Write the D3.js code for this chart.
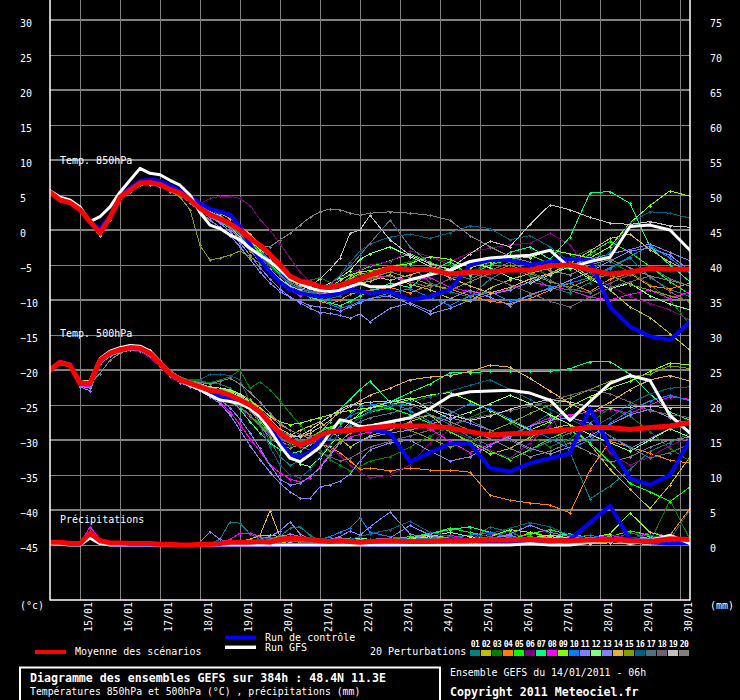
<!DOCTYPE html>
<html><head><meta charset="utf-8">
<script src="https://cdn.jsdelivr.net/npm/d3@7/dist/d3.min.js"></script>
<style>html,body{margin:0;padding:0;background:#000;} svg{display:block;}</style>
</head><body>
<svg id="c" width="740" height="700"></svg>
<script>
// ---------- DATA ----------
const hours = [0,6,12,18,24,30,36,42,48,54,60,66,72,78,84,90,96,102,108,114,120,126,132,138,144,150,156,162,168,174,180,186,192,
  204,216,228,240,252,264,276,288,300,312,324,336,348,360,372,384];
const dayHours = [18,42,66,90,114,138,162,186,210,234,258,282,306,330,354,378];
const dayLabels = ["15/01","16/01","17/01","18/01","19/01","20/01","21/01","22/01","23/01","24/01","25/01","26/01","27/01","28/01","29/01","30/01"];
const tempTicks = [30,25,20,15,10,5,0,-5,-10,-15,-20,-25,-30,-35,-40,-45];
const precipTicks = [75,70,65,60,55,50,45,40,35,30,25,20,15,10,5,0];
const memberNames = ["01","02","03","04","05","06","07","08","09","10","11","12","13","14","15","16","17","18","19","20"];
const memberColors = ["#008080","#c0c000","#008000","#ff8000","#00ff00","#800080","#00ff80","#ff00ff","#80ff00","#0080ff",
  "#8080ff","#80ff80","#8080ff","#e0b040","#80a000","#006080","#507080","#706070","#c0c0c0","#808080"];

const mean850 = [5.4,4.3,3.9,2.9,1.2,-0.4,1.8,4.7,5.7,6.7,6.8,6.5,5.8,5.3,4.3,3.1,
  2.2,1.6,0.9,0.0,-1.2,-2.2,-3.5,-5.0,-6.6,-7.3,-7.6,-8.1,-8.2,-7.9,-7.4,-7.0,-6.4,
  -5.4,-5.7,-5.6,-6.3,-6.0,-6.0,-5.7,-5.7,-5.1,-5.0,-5.7,-6.3,-6.0,-5.5,-5.6,-5.6];
const gfs850 = [5.6,4.7,4.3,3.3,1.2,1.9,3.3,5.4,7.1,8.8,8.1,7.9,7.1,6.4,5.0,2.5,
  0.7,0.2,-0.7,-1.4,-2.6,-3.6,-4.5,-5.7,-6.9,-7.6,-8.3,-8.6,-8.8,-8.6,-8.1,-7.6,-8.1,
  -8.1,-7.1,-6.4,-5.7,-4.5,-4.0,-3.8,-3.6,-2.9,-5.4,-4.5,-3.9,0.5,0.7,0.0,-2.9];
const ctrl850 = [5.5,4.5,4.0,3.0,1.0,0.2,2.0,5.0,6.0,7.0,7.2,7.0,6.3,5.7,4.8,3.8,
  3.0,2.6,2.2,0.5,-2.0,-4.3,-6.0,-7.5,-8.5,-9.0,-9.3,-9.5,-9.3,-9.0,-8.5,-8.8,-9.0,
  -8.8,-10.0,-9.5,-8.5,-5.0,-4.3,-4.3,-5.0,-4.5,-4.1,-4.3,-11.0,-13.8,-15.2,-15.7,-13.1];

const mean500 = [-20.0,-18.9,-19.3,-21.9,-21.9,-18.6,-17.6,-17.1,-16.8,-16.9,-17.6,-19.0,-20.5,-21.4,-21.9,-22.4,
  -22.9,-23.1,-23.6,-24.3,-25.0,-26.0,-27.6,-29.0,-30.0,-30.7,-30.2,-29.3,-28.8,-28.7,-28.6,-28.5,-28.3,
  -28.0,-28.0,-28.0,-28.3,-28.8,-29.3,-29.1,-29.0,-28.7,-28.5,-28.2,-28.2,-28.5,-28.2,-28.0,-27.5];
const gfs500 = [-20.0,-18.8,-19.2,-21.8,-21.6,-18.4,-17.3,-16.8,-16.5,-16.6,-17.3,-18.8,-20.4,-21.5,-22.2,-22.8,
  -23.6,-24.3,-24.5,-24.8,-25.5,-26.7,-28.6,-30.8,-32.6,-33.1,-32.1,-31.0,-29.0,-27.1,-27.4,-28.1,-28.0,
  -27.4,-26.8,-25.5,-23.7,-23.1,-23.0,-22.9,-23.3,-24.3,-27.2,-24.5,-21.9,-20.8,-21.5,-26.5,-29.0];
const ctrl500 = [-20.0,-18.8,-19.2,-22.0,-22.0,-18.8,-17.5,-17.0,-16.6,-16.8,-17.5,-19.0,-20.5,-21.5,-22.0,-22.5,
  -23.2,-23.8,-24.2,-24.6,-25.3,-26.5,-28.3,-30.3,-32.1,-32.4,-31.7,-30.0,-29.0,-28.5,-28.6,-28.6,-28.5,
  -29.0,-33.1,-31.8,-30.5,-30.5,-34.0,-34.5,-33.3,-32.6,-31.9,-25.5,-31.0,-35.5,-36.4,-35.0,-30.0];

const meanPrecip = [0.4,0.4,0.2,0.2,1.7,0.6,0.3,0.3,0.2,0.2,0.2,0.1,0.1,0.0,0.0,0.1,
  0.1,0.2,0.4,0.4,0.4,0.5,0.4,0.8,1.0,0.9,0.8,0.6,0.5,0.6,0.5,0.4,0.5,
  0.6,0.5,0.5,0.6,0.6,0.7,0.7,0.8,0.6,0.6,0.7,0.8,0.6,0.5,0.9,0.8];
const gfsPrecip = [0.2,0.1,0.0,0.0,1.0,0.2,0.0,0.0,0.0,0.0,0.0,0.0,0.0,0.0,0.0,0.0,
  0.0,0.0,0.0,0.0,0.0,0.0,0.0,0.0,0.0,0.0,0.0,0.0,0.0,0.0,0.0,0.0,0.0,
  0.0,0.0,0.0,0.0,0.0,0.0,0.0,0.2,0.0,0.0,0.4,0.8,0.2,0.6,1.4,0.2];
const ctrlPrecip = [0.3,0.2,0.1,0.1,1.2,0.3,0.1,0.0,0.0,0.0,0.0,0.0,0.0,0.0,0.0,0.0,
  0.0,0.0,0.0,0.0,0.0,0.0,0.0,0.0,0.0,0.0,0.0,0.0,0.2,0.4,0.2,0.1,0.0,
  0.0,0.1,0.4,0.8,0.6,0.3,0.2,0.6,0.4,0.8,3.2,5.6,0.8,0.4,0.2,0.3];

const pert850 = [
 [5.5,4.4,4.0,3.0,1.1,-0.5,1.6,4.5,5.8,6.9,7.0,6.6,5.9,5.4,4.5,3.4, 2.5,1.8,0.6,-0.8,-2.5,-4.0,-5.2,-6.5,-7.8,-8.6,-9.0,-9.5,-9.8,-9.4,-8.5,-7.8,-7.0, -6.0,-5.0,-7.5,-8.8,-9.6,-7.0,-5.5,-6.5,-8.2,-9.0,-7.5,-5.5,-4.0,-6.8,-8.5,-9.5],
 [5.3,4.2,3.8,2.8,0.9,-0.9,1.4,4.4,5.6,6.6,6.8,6.4,5.7,5.1,4.0,2.8, 1.8,1.2,0.5,-0.5,-1.6,-2.8,-4.3,-5.8,-7.2,-8.0,-8.4,-9.0,-9.3,-8.8,-8.2,-7.6,-7.3, -6.4,-7.8,-8.5,-9.8,-10.2,-8.3,-7.1,-6.2,-5.4,-4.8,-6.7,-8.6,-11.0,-12.5,-14.8,-17.2],
 [5.4,4.5,4.1,3.1,1.3,-0.2,1.9,4.8,5.9,6.8,7.1,6.7,6.0,5.5,4.8,3.9, 3.0,2.2,1.0,-0.2,-1.5,-3.0,-4.6,-6.0,-7.0,-7.5,-7.2,-6.8,-7.5,-8.0,-7.2,-6.4,-6.0, -5.2,-4.5,-3.8,-5.0,-6.2,-4.6,-3.5,-5.2,-6.6,-4.0,-2.8,-4.5,-6.0,-7.8,-10.0,-13.5],
 [5.4,4.3,3.9,2.9,1.0,-0.6,1.5,4.6,5.7,6.6,6.6,6.3,5.6,5.2,4.2,3.0, 2.0,1.5,0.2,-1.4,-3.0,-4.5,-5.8,-7.0,-8.2,-9.0,-9.6,-10.2,-10.6,-10.0,-9.2,-8.8,-8.6, -8.2,-9.0,-7.8,-8.4,-9.4,-10.2,-10.5,-9.8,-8.6,-7.6,-8.8,-7.0,-6.2,-8.0,-8.4,-7.6],
 [5.5,4.6,4.2,3.2,1.4,-0.1,2.0,4.9,6.0,7.0,7.2,6.8,6.1,5.6,4.6,3.5, 2.6,1.9,0.8,-0.4,-1.8,-3.2,-4.8,-6.4,-7.6,-8.4,-8.8,-9.2,-8.6,-7.8,-6.8,-5.8,-5.2, -4.4,-3.4,-4.6,-5.8,-6.4,-5.0,-4.2,-3.6,-4.8,-5.6,-3.4,-1.6,-3.2,-5.2,-7.4,-9.2],
 [5.4,4.4,4.0,3.0,1.2,-0.3,1.8,4.7,5.8,6.7,6.9,6.6,5.9,5.5,4.8,3.8, 4.5,4.8,4.8,4.5,3.5,1.5,0.0,-2.0,-4.0,-6.0,-7.4,-8.2,-8.0,-7.0,-6.2,-5.6,-5.0, -4.5,-3.0,-3.8,-4.6,-3.2,-2.6,-2.1,-1.9,-0.5,-2.1,-6.2,-8.0,-9.5,-10.5,-11.4,-12.9],
 [5.3,4.3,3.9,2.9,1.1,-0.4,1.7,4.6,5.7,6.8,6.9,6.5,5.8,5.2,4.2,3.0, 2.0,1.2,0.2,-1.0,-2.4,-3.6,-5.0,-6.6,-8.0,-9.0,-9.6,-10.0,-10.4,-10.8,-10.2,-9.4,-8.8, -7.6,-8.2,-6.0,-4.5,-6.5,-5.0,-3.2,-2.4,-4.2,-1.0,5.3,5.5,3.8,-2.4,-5.0,-7.4],
 [5.4,4.4,4.0,2.9,1.1,-0.5,1.7,4.7,5.7,6.7,6.8,6.5,5.8,5.3,4.3,3.1, 2.2,1.4,0.4,-1.0,-2.6,-4.2,-5.6,-7.0,-8.6,-9.4,-9.0,-8.6,-8.4,-8.8,-8.0,-7.4,-6.8, -6.6,-7.2,-6.8,-8.2,-8.8,-9.2,-8.4,-7.4,-8.0,-8.6,-9.6,-10.0,-9.2,-8.6,-9.8,-8.8],
 [5.5,4.5,4.1,3.1,1.2,-0.3,1.9,4.8,5.9,6.8,7.0,6.6,5.9,5.4,4.4,3.2, 2.4,1.8,0.8,-0.6,-2.0,-3.4,-4.6,-5.8,-7.0,-7.8,-8.2,-8.6,-8.2,-7.2,-6.4,-6.0,-5.8, -5.2,-4.8,-3.8,-4.2,-5.4,-4.6,-3.6,-4.0,-2.8,-3.4,-4.0,-2.4,1.0,3.5,5.6,4.8],
 [5.3,4.3,3.9,2.8,1.0,-0.5,1.6,4.6,5.6,6.6,6.7,6.4,5.7,5.2,4.4,3.6, 3.0,2.0,1.2,0.2,-1.2,-2.8,-4.4,-6.0,-7.4,-8.2,-8.8,-9.6,-10.6,-11.2,-10.8,-10.2,-9.8, -9.0,-8.4,-9.6,-10.8,-9.4,-8.8,-10.2,-9.4,-8.2,-7.6,-6.8,-5.4,-3.8,-2.2,-4.0,-6.2],
 [5.4,4.3,3.9,2.9,1.1,-0.6,1.5,4.4,5.5,6.4,6.5,6.2,5.5,5.0,4.0,2.8, 1.8,1.0,-0.2,-1.8,-3.6,-5.4,-7.0,-8.4,-9.6,-10.4,-11.2,-11.8,-11.9,-12.2,-12.6,-12.0,-13.1, -11.2,-10.4,-11.6,-9.8,-8.6,-9.6,-10.8,-9.2,-8.4,-7.2,-6.0,-4.4,-3.0,-2.6,-3.6,-5.8],
 [5.5,4.5,4.1,3.0,1.2,-0.2,1.9,4.8,5.8,6.8,7.0,6.7,6.0,5.5,4.6,3.5, 2.6,2.0,1.0,-0.4,-1.6,-2.8,-3.8,-5.2,-6.4,-7.4,-7.9,-8.2,-7.6,-6.8,-5.8,-4.2,-3.4, -2.4,-3.8,-5.2,-6.0,-4.6,-5.4,-6.8,-7.6,-6.4,-5.2,-7.0,-8.4,-7.6,-9.4,-10.6,-11.4],
 [5.3,4.2,3.8,2.8,1.0,-0.7,1.4,4.4,5.5,6.4,6.6,6.3,5.6,5.0,3.9,2.6, 1.4,0.4,-0.8,-2.4,-4.2,-6.0,-7.6,-8.8,-9.6,-10.2,-10.8,-11.0,-11.2,-11.6,-11.0,-10.4,-9.8, -9.4,-10.6,-12.0,-11.2,-10.0,-9.2,-8.6,-7.4,-6.2,-5.0,-4.2,-3.4,-2.8,-2.0,-3.2,-4.4],
 [5.4,4.4,4.0,3.0,1.1,-0.4,1.8,4.7,5.8,6.8,6.9,6.6,6.0,5.6,4.9,4.0, 3.2,2.4,1.6,0.6,-0.6,-2.0,-3.6,-5.2,-6.8,-7.8,-8.4,-8.8,-9.2,-8.6,-7.0,-6.2,-6.4, -7.2,-6.4,-5.6,-6.8,-8.0,-9.0,-8.2,-7.0,-6.2,-4.8,-3.0,-1.2,-0.6,-2.8,-4.6,-6.0],
 [5.5,4.4,4.0,3.0,1.2,-0.3,1.8,4.6,5.6,6.5,6.8,6.4,5.6,4.7,2.9,-2.2, -4.3,-4.0,-3.6,-3.0,-3.8,-4.8,-6.0,-7.2,-8.2,-8.8,-9.0,-9.4,-9.0,-8.4,-7.6,-7.2,-6.8, -6.0,-6.8,-7.8,-8.6,-7.4,-6.2,-5.0,-6.2,-7.4,-8.2,-7.0,-6.4,-7.8,-8.6,-9.4,-10.2],
 [5.4,4.3,3.9,2.9,1.0,-0.5,1.6,4.5,5.6,6.6,6.7,6.4,5.7,5.2,4.3,3.2, 2.3,1.6,0.6,-0.8,-2.2,-3.8,-5.2,-6.6,-7.8,-8.4,-8.6,-8.4,-7.8,-6.4,-4.6,-3.0,-2.0, -1.0,-0.6,-1.2,-0.4,0.6,0.2,-1.4,-0.8,-2.4,-4.6,-6.2,-3.0,1.0,2.6,2.4,1.7],
 [5.3,4.3,3.9,2.9,1.1,-0.4,1.7,4.6,5.7,6.7,6.8,6.5,5.8,5.3,4.3,3.1, 2.1,1.4,0.3,-1.2,-2.8,-4.4,-5.8,-7.2,-8.4,-9.2,-9.4,-8.8,-7.8,-6.6,-5.2,-3.6,-1.9, 1.4,-2.4,-4.8,-6.2,-7.0,-5.8,-4.6,-6.0,-7.2,-8.4,-9.0,-7.6,-6.4,-5.2,-7.0,-8.0],
 [5.4,4.4,4.0,3.0,1.2,-0.4,1.8,4.7,5.8,6.7,6.8,6.5,5.8,5.3,4.4,3.3, 2.4,1.6,0.6,-0.6,-2.0,-3.6,-5.0,-6.4,-7.6,-8.4,-8.8,-9.0,-8.6,-8.0,-7.6,-7.2,-7.0, -6.6,-7.4,-8.2,-7.0,-6.2,-6.8,-7.8,-9.0,-10.2,-11.0,-9.6,-8.2,-7.4,-6.6,-8.8,-10.4],
 [5.5,4.5,4.1,3.1,1.3,-0.2,2.0,4.9,6.0,6.9,7.1,6.7,6.0,5.5,4.6,3.4, 2.4,1.6,0.4,-1.0,-2.4,-4.0,-5.6,-7.0,-8.0,-8.6,-8.0,-7.0,-5.6,-4.0,-0.5,0.0,2.1, -1.4,-3.6,-4.8,-5.6,-3.4,-1.6,-2.4,0.8,3.6,2.9,1.8,1.0,0.8,1.2,0.6,0.4],
 [5.4,4.4,4.0,3.0,1.2,-0.4,1.7,4.6,5.6,6.6,6.8,6.5,5.8,5.3,4.4,3.3, 2.3,1.5,0.4,-0.6,-1.4,-2.2,-2.4,-1.4,-0.5,0.7,1.8,2.6,3.0,2.9,2.4,2.1,2.4, 2.6,2.4,2.1,1.4,-0.8,-2.4,-3.8,-4.6,-5.8,-6.4,-5.0,-4.2,-5.4,-6.6,-7.2,-8.0]
];

const pert500 = [
 [-20.0,-18.8,-19.2,-21.6,-21.8,-18.4,-17.4,-16.9,-16.6,-16.7,-17.4,-18.8,-20.4,-21.2,-21.6,-21.7, -21.8,-22.0,-22.6,-23.8,-25.4,-27.6,-30.2,-32.4,-33.6,-33.0,-31.4,-30.0,-28.6,-27.4,-26.6,-26.0,-25.8, -25.2,-24.8,-26.4,-27.8,-29.6,-30.8,-29.2,-28.0,-26.2,-31.8,-38.4,-36.6,-34.2,-31.6,-30.4,-29.0],
 [-20.1,-19.0,-19.4,-22.0,-22.2,-18.8,-17.8,-17.3,-17.0,-17.0,-17.8,-19.2,-20.6,-21.5,-22.1,-22.6, -23.0,-23.6,-24.2,-25.0,-25.6,-26.8,-28.2,-29.0,-29.4,-28.6,-28.0,-27.4,-28.6,-29.8,-31.0,-30.2,-29.4, -28.6,-27.4,-26.4,-28.8,-30.4,-32.0,-31.2,-29.6,-28.4,-27.8,-30.6,-34.2,-37.0,-39.8,-36.4,-32.4],
 [-19.9,-18.8,-19.2,-21.7,-21.6,-18.4,-17.4,-16.8,-16.6,-16.8,-17.4,-18.8,-20.2,-21.0,-21.4,-21.6, -21.8,-21.4,-21.0,-20.0,-22.6,-21.7,-22.8,-24.4,-26.2,-27.8,-29.6,-31.4,-32.8,-33.6,-34.4,-33.8,-33.0, -32.4,-31.0,-29.4,-28.2,-26.8,-25.6,-27.4,-29.4,-31.0,-29.8,-27.6,-25.4,-26.6,-28.8,-31.2,-33.0],
 [-20.0,-18.9,-19.3,-21.8,-21.8,-18.5,-17.5,-17.0,-16.7,-16.8,-17.5,-18.9,-20.4,-21.3,-21.8,-22.2, -22.6,-22.8,-23.0,-23.4,-24.2,-25.4,-26.6,-27.8,-28.6,-29.2,-29.8,-30.6,-31.0,-31.8,-33.0,-34.2,-34.0, -34.4,-34.0,-34.3,-34.3,-34.6,-37.9,-38.6,-39.0,-39.3,-40.4,-34.3,-30.2,-31.0,-31.9,-32.9,-33.3],
 [-20.0,-18.8,-19.2,-21.8,-21.7,-18.4,-17.4,-16.8,-16.5,-16.6,-17.3,-18.7,-20.3,-21.3,-21.9,-22.3, -22.7,-23.0,-23.4,-24.4,-25.8,-27.4,-29.0,-30.2,-30.8,-30.4,-29.6,-28.8,-28.2,-27.6,-27.2,-26.6,-26.0, -25.4,-26.4,-27.6,-28.8,-30.2,-31.6,-32.8,-31.4,-29.8,-28.6,-30.4,-33.2,-36.2,-37.4,-38.8,-36.7],
 [-20.1,-19.0,-19.4,-22.1,-22.3,-18.9,-17.9,-17.4,-17.2,-17.4,-18.2,-19.6,-21.0,-21.8,-22.2,-22.6, -23.2,-23.8,-24.6,-25.6,-26.8,-28.0,-29.4,-30.4,-30.8,-30.6,-30.2,-30.0,-31.0,-32.2,-33.6,-34.6,-35.4, -35.0,-33.6,-30.4,-28.6,-29.8,-31.4,-32.6,-30.4,-27.8,-26.4,-28.4,-31.8,-33.6,-32.4,-30.8,-29.6],
 [-20.0,-18.9,-19.3,-21.9,-21.8,-18.5,-17.5,-17.0,-16.7,-16.8,-17.5,-18.9,-20.4,-21.4,-22.0,-22.5, -23.0,-23.5,-24.2,-25.6,-27.4,-29.0,-30.4,-31.4,-32.0,-31.6,-30.6,-29.0,-27.4,-25.6,-24.2,-22.8,-21.6, -24.6,-23.2,-22.0,-20.4,-20.4,-20.2,-20.2,-20.2,-20.2,-19.8,-18.8,-18.8,-20.6,-23.4,-26.0,-27.2],
 [-20.0,-18.9,-19.4,-22.2,-22.4,-19.0,-17.9,-17.3,-17.0,-17.1,-17.8,-19.2,-20.7,-21.6,-22.2,-22.8, -23.6,-24.6,-26.0,-27.8,-29.8,-31.6,-33.6,-34.7,-35.6,-36.0,-35.4,-33.8,-32.0,-30.4,-29.6,-29.2,-28.8, -28.0,-27.6,-28.4,-30.2,-31.8,-30.6,-29.4,-28.0,-26.8,-26.4,-26.0,-25.6,-26.2,-25.0,-23.8,-24.2],
 [-19.9,-18.7,-19.1,-21.6,-21.5,-18.3,-17.3,-16.7,-16.4,-16.5,-17.2,-18.6,-20.2,-21.1,-21.6,-22.0, -22.4,-22.6,-23.0,-23.6,-24.4,-25.4,-26.6,-27.4,-27.8,-27.6,-27.2,-26.8,-26.4,-26.0,-25.8,-25.6,-25.4, -25.0,-24.2,-23.6,-23.2,-24.4,-25.8,-27.2,-28.6,-27.4,-25.2,-23.8,-22.6,-21.6,-20.2,-19.0,-19.3],
 [-20.0,-18.9,-19.3,-21.9,-21.9,-18.6,-17.6,-17.1,-16.8,-16.9,-17.6,-19.0,-20.5,-21.4,-22.0,-22.4, -22.8,-23.0,-23.4,-24.0,-24.8,-26.0,-27.4,-28.6,-29.4,-30.0,-30.4,-30.6,-29.8,-28.0,-26.4,-25.2,-25.0, -24.6,-25.8,-27.4,-26.2,-24.8,-25.6,-27.0,-28.4,-29.8,-31.2,-30.0,-27.6,-25.8,-24.4,-23.6,-24.4],
 [-20.1,-19.1,-19.6,-22.4,-23.0,-19.2,-18.0,-17.5,-17.2,-17.3,-18.0,-19.4,-20.9,-21.8,-22.4,-23.0, -23.8,-24.8,-26.4,-28.6,-30.8,-32.8,-34.6,-36.2,-37.4,-38.3,-38.3,-36.7,-36.4,-35.9,-34.9,-33.0,-31.4, -30.4,-30.0,-31.6,-33.0,-32.4,-30.8,-29.4,-28.0,-27.2,-26.8,-27.6,-29.4,-31.2,-29.8,-28.4,-27.4],
 [-20.0,-18.8,-19.2,-21.7,-21.6,-18.4,-17.4,-16.9,-16.6,-16.7,-17.4,-18.8,-20.3,-21.2,-21.7,-22.0, -22.4,-22.6,-22.8,-23.4,-24.6,-26.4,-28.6,-30.6,-32.2,-33.4,-33.8,-32.6,-30.8,-29.0,-27.4,-26.2,-25.4, -24.6,-24.0,-25.6,-27.0,-26.0,-24.8,-23.6,-24.8,-26.4,-27.8,-29.2,-30.4,-31.6,-30.0,-28.4,-29.6],
 [-20.0,-19.0,-19.5,-22.3,-22.6,-19.1,-17.9,-17.4,-17.1,-17.2,-17.9,-19.3,-20.8,-21.7,-22.3,-22.8, -23.4,-24.2,-25.4,-27.0,-29.0,-31.2,-33.6,-35.6,-36.4,-36.2,-35.2,-34.0,-32.2,-30.4,-29.8,-30.2,-29.6, -29.0,-28.6,-27.8,-26.8,-27.6,-28.6,-29.8,-31.2,-32.0,-31.0,-29.4,-27.8,-26.4,-25.6,-26.8,-27.8],
 [-19.9,-18.8,-19.2,-21.7,-21.7,-18.4,-17.4,-16.9,-16.6,-16.7,-17.4,-18.8,-20.3,-21.2,-21.7,-22.1, -22.5,-22.8,-23.2,-23.8,-24.6,-25.6,-27.0,-28.4,-29.2,-29.6,-29.0,-28.2,-27.2,-26.0,-25.2,-24.4,-23.6, -22.6,-21.4,-21.0,-20.8,-20.2,-19.3,-19.6,-21.2,-23.0,-24.8,-26.2,-24.6,-22.8,-21.4,-20.8,-21.6],
 [-20.0,-18.9,-19.3,-21.9,-21.9,-18.6,-17.6,-17.1,-16.8,-16.9,-17.6,-19.0,-20.5,-21.4,-21.9,-22.4, -22.8,-23.2,-24.0,-25.2,-26.6,-28.0,-29.6,-30.8,-31.2,-30.6,-29.8,-30.4,-31.6,-30.2,-29.0,-28.2,-27.8, -27.4,-28.6,-29.8,-31.0,-30.2,-28.8,-27.6,-26.2,-25.0,-24.0,-22.8,-21.6,-21.0,-20.6,-19.4,-19.8],
 [-20.0,-18.9,-19.3,-21.8,-21.7,-18.4,-17.4,-16.9,-16.6,-16.8,-17.6,-19.0,-20.4,-21.2,-21.4,-21.4, -20.6,-20.6,-20.8,-21.4,-24.6,-28.0,-31.0,-33.6,-35.0,-35.4,-34.2,-32.4,-30.6,-29.0,-27.8,-26.8,-26.0, -25.0,-24.6,-23.8,-23.0,-22.2,-21.4,-22.8,-24.2,-25.6,-27.0,-28.4,-26.8,-24.8,-23.4,-22.6,-22.4],
 [-20.0,-18.9,-19.3,-21.9,-21.9,-18.7,-17.6,-17.1,-16.8,-16.9,-17.6,-19.0,-20.5,-21.4,-21.9,-22.3, -22.8,-23.4,-24.2,-25.2,-26.4,-27.8,-29.2,-30.0,-30.4,-30.2,-29.8,-29.4,-29.0,-28.6,-28.0,-27.4,-26.8, -26.2,-25.4,-24.6,-25.8,-27.2,-28.6,-30.0,-31.4,-30.2,-29.0,-27.8,-29.4,-31.0,-32.6,-31.8,-30.6],
 [-20.0,-18.9,-19.3,-21.9,-22.0,-18.7,-17.7,-17.2,-16.9,-17.0,-17.7,-19.1,-20.6,-21.5,-22.0,-22.5, -23.0,-23.4,-24.0,-24.8,-25.8,-27.0,-28.4,-29.6,-30.4,-31.0,-31.4,-31.8,-32.4,-33.0,-32.6,-31.8,-31.0, -30.2,-29.4,-28.6,-27.8,-27.0,-26.4,-25.8,-25.2,-24.4,-23.6,-22.8,-23.4,-24.6,-25.8,-26.4,-26.8],
 [-20.0,-18.8,-19.2,-21.8,-21.8,-18.5,-17.4,-16.9,-16.6,-16.7,-17.4,-18.8,-20.4,-21.3,-21.8,-22.2, -22.6,-22.8,-23.2,-23.8,-24.8,-26.2,-27.8,-29.0,-29.6,-29.4,-28.6,-27.6,-26.6,-25.6,-25.0,-24.8,-24.6, -24.4,-24.8,-25.6,-26.4,-27.2,-26.6,-25.6,-24.8,-24.2,-24.6,-25.2,-25.4,-25.3,-25.2,-25.4,-25.3],
 [-20.0,-18.9,-19.2,-21.8,-21.9,-20.5,-18.6,-17.6,-16.9,-16.8,-17.4,-18.6,-20.0,-21.0,-21.6,-21.8, -22.0,-21.6,-21.2,-22.0,-23.2,-24.6,-26.2,-27.6,-28.6,-29.2,-29.4,-29.2,-28.8,-28.4,-28.2,-28.0,-27.8, -27.6,-27.0,-26.4,-27.4,-28.6,-29.8,-31.2,-32.4,-31.6,-30.4,-31.8,-33.2,-32.4,-31.0,-30.0,-29.6]
];

const pertPrecip = [
 [0.5,0.3,0.2,0.2,1.4,0.5,0.2,0.2,0.1,0.1,0.1,0.0,0.0,0.0,0.0,0.1, 0.2,0.8,3.3,3.1,1.6,0.8,0.6,1.2,2.4,2.6,1.4,0.6,0.4,0.6,0.8,0.5,0.4, 0.6,1.0,0.8,0.4,0.6,2.6,1.8,0.8,0.5,0.4,0.8,0.6,1.8,0.8,0.4,0.6],
 [0.4,0.4,0.2,0.2,1.8,0.6,0.3,0.2,0.2,0.1,0.1,0.1,0.0,0.0,0.0,0.0, 0.0,0.1,0.2,0.3,0.2,0.4,0.6,0.4,0.2,0.3,0.6,0.8,0.4,0.2,0.4,0.6,0.8, 0.4,0.6,1.2,0.8,0.4,0.2,0.6,0.4,1.0,0.6,0.2,0.4,0.6,1.0,0.4,0.2],
 [0.3,0.4,0.2,0.2,1.6,0.5,0.2,0.2,0.1,0.1,0.0,0.0,0.0,0.0,0.0,0.0, 0.0,0.1,0.2,0.2,0.3,0.4,0.3,0.5,0.4,0.6,0.4,0.3,0.2,0.3,0.5,0.4,0.3, 0.5,0.3,0.6,0.8,0.6,1.2,2.0,0.6,0.4,0.2,0.4,0.6,0.8,0.4,6.4,0.8],
 [0.4,0.4,0.2,0.2,1.7,0.6,0.3,0.2,0.2,0.2,0.1,0.1,0.0,0.0,0.0,0.0, 0.1,0.2,0.2,0.4,0.6,0.4,0.6,1.0,0.8,0.6,0.4,0.5,0.3,0.4,0.6,0.8,0.6, 0.4,0.8,1.4,0.6,0.8,1.2,0.6,1.8,1.0,0.8,0.6,1.4,1.0,0.6,1.4,5.2],
 [0.5,0.4,0.2,0.2,2.0,0.7,0.3,0.3,0.2,0.2,0.1,0.1,0.0,0.0,0.0,0.1, 0.2,0.3,0.4,0.5,0.6,0.8,0.6,0.9,1.2,1.0,0.8,0.5,0.6,0.8,1.0,0.8,0.6, 0.8,1.2,1.6,2.4,1.8,1.2,0.8,1.6,2.2,1.4,0.8,1.2,2.0,1.4,0.8,0.6],
 [0.4,0.3,0.2,0.1,1.5,0.5,0.2,0.2,0.1,0.1,0.1,0.0,0.0,0.0,0.0,0.0, 0.0,0.1,0.1,0.2,0.3,0.4,0.5,0.6,0.4,0.5,0.4,0.3,0.4,0.6,0.4,0.3,0.4, 0.6,0.8,1.0,0.6,0.4,0.8,1.4,2.9,1.6,0.8,0.6,1.4,1.0,0.6,0.4,0.6],
 [0.4,0.4,0.2,0.2,1.8,0.6,0.3,0.2,0.2,0.1,0.1,0.1,0.0,0.0,0.0,0.0, 0.1,0.2,0.3,0.4,0.4,0.6,0.8,1.4,1.2,1.0,0.8,0.6,0.5,0.4,0.6,0.8,0.6, 0.8,1.0,1.6,2.2,2.6,1.8,1.0,0.8,1.2,1.6,1.0,0.6,0.8,1.2,0.8,0.6],
 [0.5,0.4,0.2,0.2,2.6,0.8,0.3,0.3,0.2,0.2,0.1,0.1,0.0,0.0,0.0,0.1, 0.2,0.4,0.8,1.7,1.7,1.2,0.8,0.6,0.8,0.6,0.4,0.6,0.8,0.6,0.4,0.6,0.8, 0.6,0.8,1.0,1.4,0.8,1.6,1.2,0.8,1.0,0.6,1.0,1.4,0.8,1.8,1.2,0.8],
 [0.4,0.3,0.2,0.2,1.7,0.6,0.3,0.2,0.2,0.1,0.1,0.0,0.0,0.0,0.0,0.0, 0.1,0.2,0.4,0.6,0.8,1.4,1.4,1.2,1.0,0.8,0.6,0.5,0.4,0.6,0.8,0.6,0.5, 0.6,1.0,1.4,1.0,0.8,1.2,2.2,1.8,1.2,0.8,1.0,1.6,4.6,1.8,1.0,0.6],
 [0.4,0.4,0.2,0.2,1.6,0.5,0.2,0.2,0.1,0.1,0.1,0.0,0.0,0.0,0.0,0.0, 0.0,0.1,0.2,0.2,0.3,0.4,0.6,0.8,0.6,0.4,0.6,0.8,1.2,1.8,2.4,3.9,1.8, 1.2,0.8,0.6,1.0,1.4,1.8,1.2,0.8,0.6,1.0,1.4,0.8,0.6,0.8,1.0,0.6],
 [0.5,0.4,0.2,0.2,1.9,0.6,0.3,0.2,0.2,0.2,0.1,0.1,0.0,0.0,0.1,0.4, 1.9,0.8,0.4,0.4,0.6,0.8,1.2,2.0,3.3,1.6,0.8,0.6,0.8,1.2,2.0,1.4,2.6, 4.7,1.6,0.8,1.2,0.8,1.0,1.4,0.6,0.8,1.2,0.6,0.8,1.0,0.6,0.8,1.0],
 [0.4,0.4,0.2,0.2,1.7,0.6,0.3,0.2,0.2,0.1,0.1,0.1,0.0,0.0,0.0,0.0, 0.1,0.2,0.3,0.4,0.4,0.6,0.4,0.6,0.8,0.6,0.4,0.3,0.4,0.6,0.8,1.0,0.8, 0.6,0.8,1.2,1.8,1.2,0.8,0.6,1.0,1.4,1.0,0.8,0.6,1.0,0.8,0.6,0.4],
 [0.4,0.4,0.2,0.2,1.8,0.6,0.3,0.2,0.2,0.1,0.1,0.0,0.0,0.0,0.0,0.1, 0.2,0.3,0.4,0.4,0.6,0.6,0.8,1.0,1.6,1.2,0.8,0.6,0.8,1.0,0.8,0.6,0.8, 1.0,2.8,1.4,0.8,0.6,0.8,1.6,2.8,1.8,1.2,0.8,0.6,0.8,1.0,0.6,0.4],
 [0.4,0.4,0.2,0.2,1.6,0.5,0.2,0.2,0.1,0.1,0.1,0.0,0.0,0.0,0.0,0.0, 0.1,0.2,0.3,0.5,0.8,1.4,4.9,1.2,0.6,0.4,0.3,0.4,0.6,0.4,0.3,0.5,0.4, 0.6,0.4,0.8,0.6,0.4,0.8,1.0,0.6,0.8,0.4,0.6,1.0,0.8,0.6,0.8,0.6],
 [0.4,0.3,0.2,0.2,1.5,0.5,0.2,0.2,0.1,0.1,0.0,0.0,0.0,0.0,0.0,0.0, 0.0,0.1,0.2,0.2,0.3,0.4,0.6,0.8,0.6,0.4,0.3,0.4,0.6,0.8,0.6,0.4,0.6, 0.8,0.6,1.0,0.8,0.6,0.4,0.8,1.2,0.8,0.6,1.0,0.8,0.6,0.4,0.8,0.6],
 [0.5,0.4,0.2,0.2,1.7,0.6,0.3,0.2,0.2,0.1,0.1,0.1,0.0,0.0,0.0,0.0, 0.1,0.2,0.3,0.4,0.6,0.8,1.0,1.2,0.8,0.6,0.8,1.0,0.8,0.6,0.8,1.2,1.6, 2.2,3.4,1.8,1.2,0.8,1.6,2.4,3.2,2.6,1.4,0.8,0.6,1.0,1.4,0.8,5.0],
 [0.4,0.4,0.2,0.2,1.7,0.6,0.3,0.2,0.2,0.1,0.1,0.0,0.0,0.0,0.0,0.0, 0.0,0.1,0.2,0.3,0.4,0.5,0.6,1.4,0.8,0.6,0.4,0.3,0.4,0.5,0.4,0.6,0.8, 0.6,0.8,1.0,0.6,0.8,1.2,0.8,0.6,0.8,1.0,0.6,0.4,0.6,0.8,0.6,0.4],
 [0.4,0.3,0.2,0.2,1.6,0.5,0.2,0.2,0.1,0.1,0.0,0.0,0.0,0.0,0.0,0.0, 0.0,0.1,0.1,0.2,0.3,0.4,0.5,0.4,0.6,0.4,0.3,0.2,0.3,0.4,0.3,0.4,0.5, 0.4,0.6,0.8,0.6,0.4,0.6,0.8,1.0,0.6,0.4,0.6,0.8,0.4,0.6,0.4,0.2],
 [0.3,0.3,0.1,0.1,1.4,0.4,0.2,0.1,0.1,0.0,0.0,0.0,0.0,0.0,0.0,0.0, 0.0,0.0,0.1,0.1,0.2,0.2,0.3,0.2,0.3,0.2,0.2,0.1,0.2,0.2,0.1,0.2,0.2, 0.2,0.3,0.2,0.4,0.3,0.2,0.4,0.3,0.2,0.1,0.2,0.3,0.2,0.1,0.2,0.1],
 [0.4,0.3,0.2,0.2,1.9,0.6,0.3,0.2,0.2,0.1,0.1,0.0,0.0,0.0,0.0,0.0, 0.0,0.1,0.2,0.3,0.4,0.6,0.8,1.3,1.0,0.6,0.4,0.3,0.4,0.3,0.4,0.6,0.4, 0.6,0.4,0.8,0.6,0.4,0.6,1.0,0.8,0.6,0.4,0.8,0.6,0.4,0.6,0.8,0.4]
];

// ---------- DRAWING ----------
const FONT = "'DejaVu Sans Mono', monospace";
const svg = d3.select("#c");
svg.append("rect").attr("width",740).attr("height",700).attr("fill","#000");

const x = d3.scaleLinear().domain([0,384]).range([50,690]);
const yT = d3.scaleLinear().domain([-45,30]).range([545,20]);
const yP = d3.scaleLinear().domain([0,75]).range([545,20]);

// grid
const grid = svg.append("g").attr("shape-rendering","crispEdges");
grid.selectAll("line.h").data(tempTicks).join("line").attr("class","h")
  .attr("x1",50).attr("x2",690)
  .attr("y1",d=>yT(d)+(d%10===0?0:0.5)).attr("y2",d=>yT(d)+(d%10===0?0:0.5))
  .attr("stroke","#808080").attr("stroke-width",d=>d%10===0?2:1);
grid.selectAll("line.v").data(dayHours).join("line").attr("class","v")
  .attr("x1",d=>x(d)+0.5).attr("x2",d=>x(d)+0.5).attr("y1",0).attr("y2",600)
  .attr("stroke","#808080").attr("stroke-width",1);

// clip
svg.append("clipPath").attr("id","plotclip").append("rect")
  .attr("x",50).attr("y",0).attr("width",640).attr("height",600);
const plot = svg.append("g").attr("clip-path","url(#plotclip)");

function lineFor(scale){
  return d3.line().defined(v=>v!=null).x((v,i)=>x(hours[i])).y(v=>scale(v));
}
function drawPert(values, scale, color){
  const g = plot.append("g").attr("shape-rendering","crispEdges");
  g.append("path").attr("d",lineFor(scale)(values)).attr("fill","none")
    .attr("stroke",color).attr("stroke-width",1);
  g.selectAll("path.m").data(values).join("path").attr("class","m")
    .attr("d",(v,i)=>{const px=Math.round(x(hours[i]))+0.5, py=Math.round(scale(v))+0.5;
      return `M${px-1.5},${py}H${px+1.5}M${px},${py-1.5}V${py+1.5}`;})
    .attr("stroke",color).attr("stroke-width",1);
}
function drawMain(values, scale, color, w){
  plot.append("path").attr("d",lineFor(scale)(values)).attr("fill","none")
    .attr("stroke",color).attr("stroke-width",w)
    .attr("stroke-linejoin","round").attr("stroke-linecap","round");
}

for(let k=0;k<20;k++){
  drawPert(pertPrecip[k], yP, memberColors[k]);
  drawPert(pert500[k], yT, memberColors[k]);
  drawPert(pert850[k], yT, memberColors[k]);
}
drawMain(ctrlPrecip, yP, "#0000ff", 4);
drawMain(gfsPrecip, yP, "#ffffff", 3);
drawMain(meanPrecip, yP, "#ff0000", 5);
drawMain(ctrl500, yT, "#0000ff", 4);
drawMain(gfs500, yT, "#ffffff", 3);
drawMain(mean500, yT, "#ff0000", 5);
drawMain(ctrl850, yT, "#0000ff", 4);
drawMain(gfs850, yT, "#ffffff", 3);
drawMain(mean850, yT, "#ff0000", 5);

// frame
const frame = svg.append("g").attr("stroke","#fff").attr("stroke-width",1.5);
frame.append("line").attr("x1",50).attr("x2",50).attr("y1",0).attr("y2",600.5);
frame.append("line").attr("x1",690).attr("x2",690).attr("y1",0).attr("y2",600.5);
frame.append("line").attr("x1",50).attr("x2",690).attr("y1",600).attr("y2",600);

// axes
const axL = svg.append("g").attr("transform","translate(20,0)")
  .call(d3.axisLeft(yT).tickValues(tempTicks).tickSize(0).tickPadding(0));
axL.select(".domain").remove();
axL.selectAll("text").attr("text-anchor","start").attr("x",0).attr("dy",null).attr("y",6.5)
  .attr("fill","#fff").style("font-family",FONT).style("font-size","10px");

const axR = svg.append("g").attr("transform","translate(710,0)")
  .call(d3.axisRight(yP).tickValues(precipTicks).tickSize(0).tickPadding(0));
axR.select(".domain").remove();
axR.selectAll("text").attr("text-anchor","start").attr("x",0).attr("dy",null).attr("y",6.5)
  .attr("fill","#fff").style("font-family",FONT).style("font-size","10px");

const axB = svg.append("g").attr("transform","translate(0,602)")
  .call(d3.axisBottom(x).tickValues(dayHours).tickFormat((d,i)=>dayLabels[i]).tickSize(0).tickPadding(0));
axB.select(".domain").remove();
axB.selectAll("text").attr("transform","rotate(-90)").attr("text-anchor","end")
  .attr("x",0).attr("y",11.5).attr("dy",null)
  .attr("fill","#fff").style("font-family",FONT).style("font-size","10px");

function txt(s,xx,yy,size,bold,anchor){
  return svg.append("text").attr("x",xx).attr("y",yy).text(s)
    .attr("fill","#fff").style("font-family",FONT).style("font-size",size+"px")
    .style("font-weight",bold?"bold":"normal").attr("text-anchor",anchor||"start");
}
txt("(°c)",20,609,10);
txt("(mm)",710,609,10);
txt("Temp. 850hPa",60,164,10);
txt("Temp. 500hPa",60,336.5,10);
txt("Précipitations",60,522.5,10);

// legend
svg.append("line").attr("x1",35).attr("x2",66).attr("y1",652).attr("y2",652).attr("stroke","#ff0000").attr("stroke-width",4);
txt("Moyenne des scénarios",75,655,10);
svg.append("line").attr("x1",225).attr("x2",256).attr("y1",637.5).attr("y2",637.5).attr("stroke","#0000ff").attr("stroke-width",3.6);
txt("Run de contrôle",265,640.5,10);
svg.append("line").attr("x1",225).attr("x2",256).attr("y1",647.3).attr("y2",647.3).attr("stroke","#ffffff").attr("stroke-width",3.4);
txt("Run GFS",265,650.5,10);
txt("20 Perturbations",370,655,10);
memberColors.forEach((c,i)=>{
  svg.append("rect").attr("x",470+11*i).attr("y",650).attr("width",10).attr("height",6)
    .style("fill",c);
  svg.append("text").attr("x",475+11*i).attr("y",647.3).attr("text-anchor","middle").text(memberNames[i])
    .attr("fill","#fff").style("font-family",FONT).style("font-size","8px").style("font-weight","bold")
    .style("letter-spacing","-0.5px");
});

// bottom info
svg.append("rect").attr("x",20).attr("y",667.5).attr("width",420).attr("height",45)
  .attr("fill","none").attr("stroke","#fff").attr("stroke-width",2);
txt("Diagramme des ensembles GEFS sur 384h : 48.4N 11.3E",30,681.5,11.6,true);
txt("Températures 850hPa et 500hPa (°C) , précipitations (mm)",30,694.5,9.8);
txt("Ensemble GEFS du 14/01/2011 - 06h",450,675.5,9.9);
txt("Copyright 2011 Meteociel.fr",450,695.5,11.6,true);
</script>
</body></html>
